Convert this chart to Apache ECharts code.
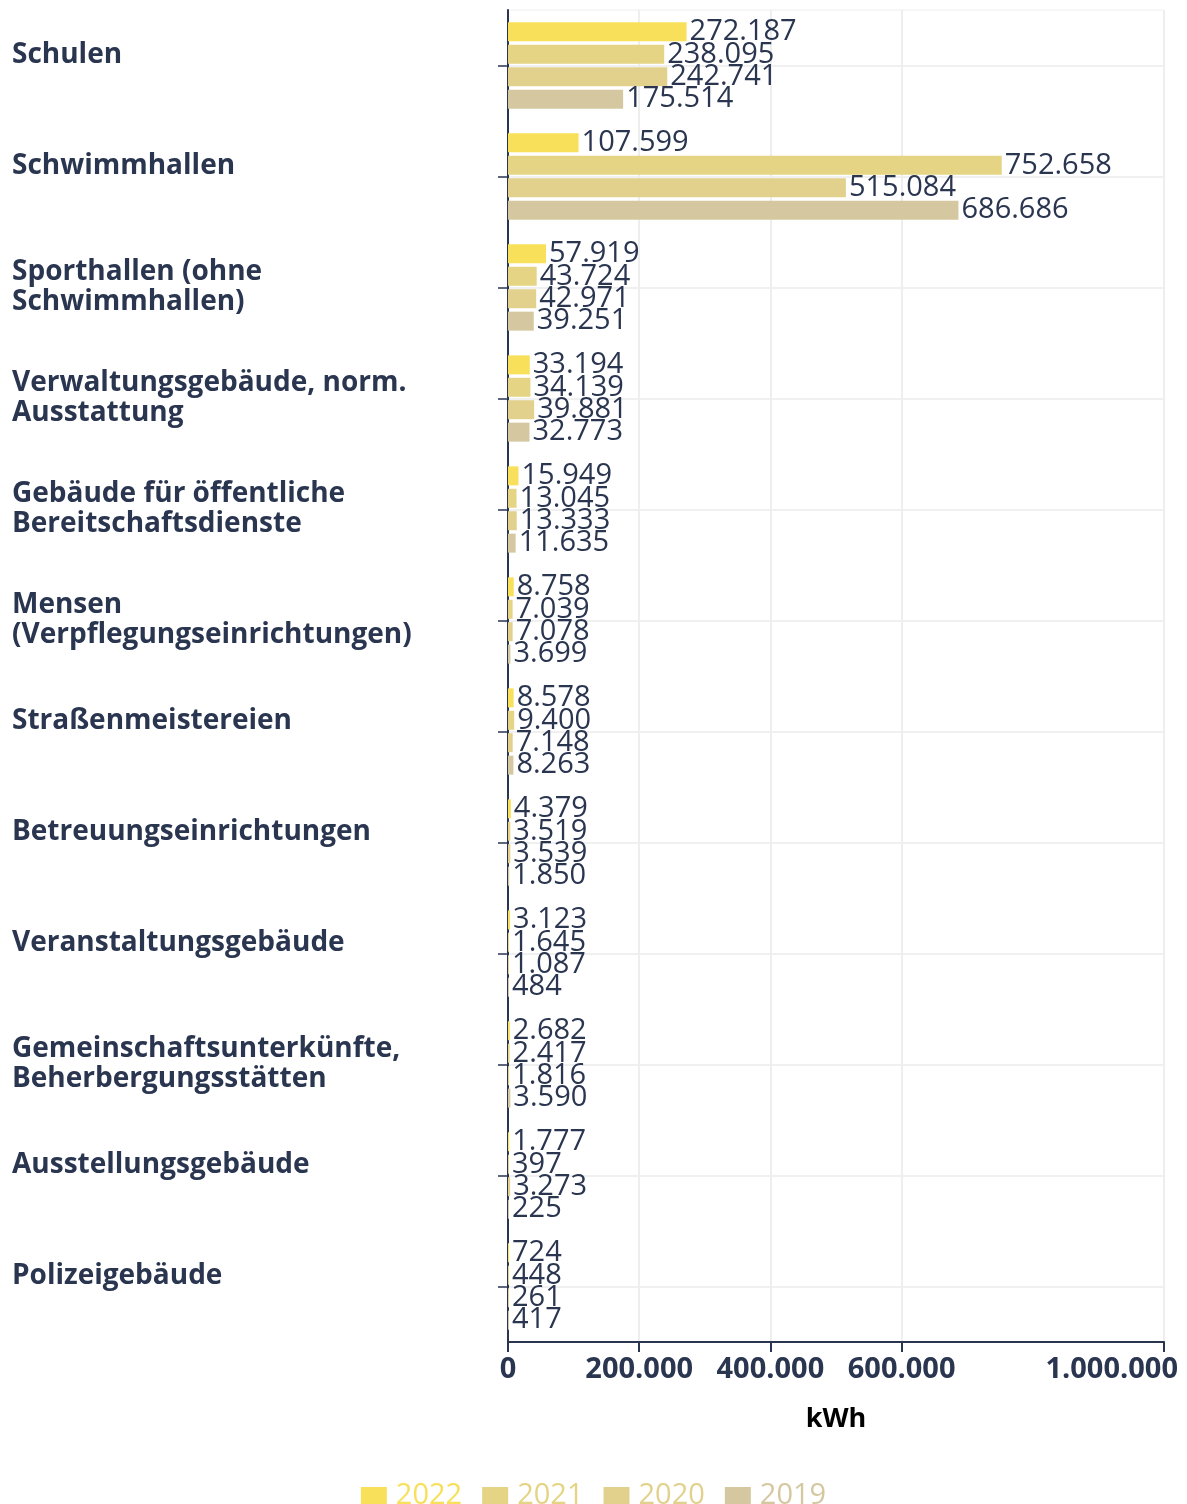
<!DOCTYPE html>
<html lang="de">
<head>
    <meta charset="UTF-8">
    <title>Energieverbrauch nach Gebäudeart</title>
    <script src="https://cdn.jsdelivr.net/npm/echarts@6/dist/echarts.min.js"></script>
    <style>
        html, body { margin: 0; padding: 0; background: #fff; }
        #main { width: 1187px; height: 1504px; }
    </style>
</head>
<body>
<div id="main"></div>
<script>
    // Kategorien (von oben nach unten)
    var categories = [
        'Schulen',
        'Schwimmhallen',
        'Sporthallen (ohne\nSchwimmhallen)',
        'Verwaltungsgebäude, norm.\nAusstattung',
        'Gebäude für öffentliche\nBereitschaftsdienste',
        'Mensen\n(Verpflegungseinrichtungen)',
        'Straßenmeistereien',
        'Betreuungseinrichtungen',
        'Veranstaltungsgebäude',
        'Gemeinschaftsunterkünfte,\nBeherbergungsstätten',
        'Ausstellungsgebäude',
        'Polizeigebäude'
    ];

    var years = ['2022', '2021', '2020', '2019'];

    var values2022 = [272187, 107599, 57919, 33194, 15949, 8758, 8578, 4379, 3123, 2682, 1777, 724];
    var values2021 = [238095, 752658, 43724, 34139, 13045, 7039, 9400, 3519, 1645, 2417, 397, 448];
    var values2020 = [242741, 515084, 42971, 39881, 13333, 7078, 7148, 3539, 1087, 1816, 3273, 261];
    var values2019 = [175514, 686686, 39251, 32773, 11635, 3699, 8263, 1850, 484, 3590, 225, 417];

    var xTicks = [0, 200000, 400000, 600000, 1000000];

    var colors = ['#f8e05a', '#e5d483', '#e2d18d', '#d5c8a0'];
    var textColor = '#2a3550';

    function fmt(v) {
        return String(v).replace(/\B(?=(\d{3})+(?!\d))/g, '.');
    }

    var allValues = [values2022, values2021, values2020, values2019];

    var series = years.map(function (y, i) {
        var s = {
            name: y,
            type: 'bar',
            data: allValues[i],
            barWidth: 19,
            barGap: '18%',
            barMinHeight: 1,
            itemStyle: { color: colors[i] },
            label: {
                show: true,
                position: 'right',
                distance: 3,
                color: textColor,
                fontFamily: 'Open Sans',
                fontSize: 29,
                formatter: function (p) { return fmt(p.value); }
            },
            emphasis: { disabled: true }
        };
        if (i === 0) {
            // senkrechte Gitterlinien nur an den beschrifteten Ticks
            s.markLine = {
                silent: true,
                symbol: 'none',
                label: { show: false },
                lineStyle: { color: '#eeeeee', type: 'solid', width: 2 },
                z: 0,
                data: xTicks.slice(1).map(function (t) { return { xAxis: t }; })
            };
        }
        return s;
    });

    var chart = echarts.init(document.getElementById('main'));
    chart.setOption({
        animation: false,
        textStyle: { fontFamily: 'Open Sans' },
        grid: {
            left: 508, right: 23, top: 10, bottom: 162,
            outerBoundsMode: 'none',
            containLabel: false,
            show: true,
            borderColor: '#eeeeee',
            borderWidth: 1
        },
        legend: {
            top: 1476,
            left: 'center',
            itemWidth: 26,
            itemHeight: 17,
            itemGap: 20,
            icon: 'rect',
            selectedMode: false,
            textStyle: { fontSize: 29, fontFamily: 'Open Sans', padding: [0, 0, 0, 4] },
            data: years.map(function (y, i) {
                return { name: y, textStyle: { color: colors[i] } };
            })
        },
        xAxis: {
            type: 'value',
            min: 0,
            max: 1000000,
            interval: 200000,
            name: 'kWh',
            nameLocation: 'middle',
            nameGap: 64,
            nameTextStyle: { fontSize: 27, fontWeight: 'bold', color: '#000' },
            axisLine: { show: true, lineStyle: { color: textColor, width: 2 } },
            axisTick: { show: true, length: 10, lineStyle: { color: textColor, width: 2 }, customValues: xTicks },
            axisLabel: {
                fontSize: 29,
                fontWeight: 'bold',
                color: textColor,
                margin: 13,
                customValues: xTicks,
                alignMaxLabel: 'right',
                formatter: function (v) {
                    return v === 1000000 ? '{m|' + fmt(v) + '}' : fmt(v);
                },
                rich: {
                    m: { fontSize: 29, fontWeight: 'bold', color: textColor, padding: [0, -14, 0, 0] }
                }
            },
            splitLine: { show: false }
        },
        yAxis: {
            type: 'category',
            inverse: true,
            data: categories,
            axisLine: { show: true, lineStyle: { color: textColor, width: 2 } },
            axisTick: { show: true, alignWithLabel: true, length: 10, lineStyle: { color: textColor, width: 1.5 } },
            axisLabel: {
                align: 'left',
                margin: 496,
                fontSize: 28,
                fontWeight: 'bold',
                color: textColor,
                lineHeight: 30,
                formatter: function (v) {
                    return v.indexOf('\n') < 0 ? '{s|' + v + '}' : v;
                },
                rich: {
                    s: { fontSize: 28, fontWeight: 'bold', color: textColor, padding: [0, 0, 20, 0] }
                }
            },
            splitLine: { show: true, alignWithLabel: true, lineStyle: { color: '#f0f0f0', width: 2 } }
        },
        series: series
    });
</script>
</body>
</html>
